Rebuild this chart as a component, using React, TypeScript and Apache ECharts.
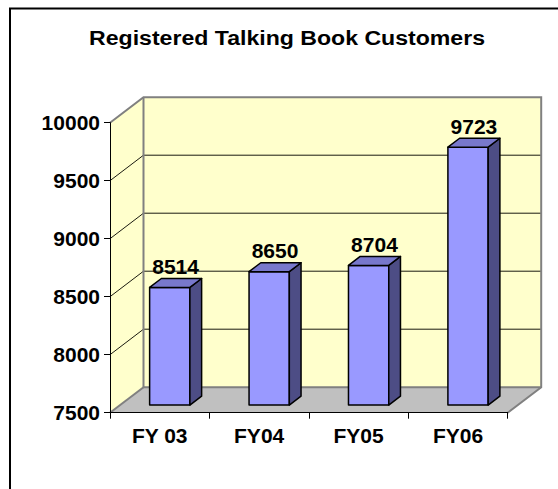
import React, { useEffect, useRef } from "react";
import * as echarts from "echarts";

const titleText = "Registered Talking Book Customers";
const categories = ["FY 03", "FY04", "FY05", "FY06"];
const customers = [8514, 8650, 8704, 9723];
const yMin = 7500;
const yMax = 10000;
const yStep = 500;
const yTicks = [7500, 8000, 8500, 9000, 9500, 10000];

const FONT = '"Liberation Sans", Arial, Helvetica, sans-serif';
const DX = 33.5;
const DY = -25.5;
const F0 = 0.3;
const F1 = 0.65;

export default function App() {
  const ref = useRef<HTMLDivElement>(null);
  useEffect(() => {
    document.body.style.margin = "0";
    document.body.style.background = "#fff";
    const chart = echarts.init(ref.current!, null, { renderer: "svg" });

    const wallsRender = (params: any, api: any) => {
      const bw = api.size([1, 0])[0];
      const xL = api.coord([0, yMin])[0] - bw / 2;
      const xR = api.coord([categories.length - 1, yMin])[0] + bw / 2;
      const yB = api.coord([0, yMin])[1];
      const yT = api.coord([0, yMax])[1];
      const edge = { stroke: "#808080", lineWidth: 2 };
      const children: any[] = [
        {
          type: "polygon",
          shape: { points: [[xL + DX, yT + DY], [xR + DX, yT + DY], [xR + DX, yB + DY], [xL + DX, yB + DY]] },
          style: { fill: "#FFFFCC", stroke: "none" },
        },
        {
          type: "polygon",
          shape: { points: [[xL, yT], [xL + DX, yT + DY], [xL + DX, yB + DY], [xL, yB]] },
          style: { fill: "#FFFFCC", stroke: "none" },
        },
        {
          type: "polygon",
          shape: { points: [[xL, yB], [xL + DX, yB + DY], [xR + DX, yB + DY], [xR, yB]] },
          style: { fill: "#C0C0C0", stroke: "none" },
        },
      ];
      yTicks.forEach((t) => {
        if (t <= yMin || t >= yMax) return;
        const y = api.coord([0, t])[1];
        children.push({
          type: "polyline",
          shape: { points: [[xL, y], [xL + DX, y + DY], [xR + DX, y + DY]] },
          style: { fill: "none", stroke: "#1a1a10", lineWidth: 1 },
        });
      });
      children.push(
        { type: "polyline", shape: { points: [[xL, yT], [xL + DX, yT + DY], [xR + DX, yT + DY], [xR + DX, yB + DY], [xR, yB]] }, style: { fill: "none", ...edge } },
        { type: "polyline", shape: { points: [[xL + DX, yT + DY], [xL + DX, yB + DY], [xR + DX, yB + DY]] }, style: { fill: "none", ...edge } },
        { type: "line", shape: { x1: xL, y1: yB, x2: xL + DX, y2: yB + DY }, style: edge }
      );
      return { type: "group", children };
    };

    const barsRender = (params: any, api: any) => {
      const i = api.value(0);
      const v = api.value(1);
      const top = api.coord([i, v]);
      const base = api.coord([i, yMin]);
      const bw = api.size([1, 0])[0];
      const w = bw * 0.405;
      const ox = F0 * DX;
      const oy = F0 * DY;
      const ddx = (F1 - F0) * DX;
      const ddy = (F1 - F0) * DY;
      const x0 = top[0] - w / 2 + ox;
      const x1 = top[0] + w / 2 + ox;
      const yT = top[1] + oy;
      const yB = base[1] + oy;
      const line = { stroke: "#000", lineWidth: 1.5, lineJoin: "round" };
      return {
        type: "group",
        children: [
          { type: "polygon", shape: { points: [[x0, yT], [x1, yT], [x1, yB], [x0, yB]] }, style: { fill: "#9999FF", ...line } },
          { type: "polygon", shape: { points: [[x1, yT], [x1 + ddx, yT + ddy], [x1 + ddx, yB + ddy], [x1, yB]] }, style: { fill: "#4D4D85", ...line } },
          { type: "polygon", shape: { points: [[x0, yT], [x1, yT], [x1 + ddx, yT + ddy], [x0 + ddx, yT + ddy]] }, style: { fill: "#7878CC", ...line } },
          {
            type: "text",
            style: {
              text: String(v),
              x: top[0] + ox + ddx / 2,
              y: yT + ddy - 12,
              align: "center",
              verticalAlign: "middle",
              textAlign: "center",
              textVerticalAlign: "middle",
              font: `bold 21px ${FONT}`,
              fill: "#000",
            },
          },
        ],
      };
    };

    chart.setOption({
      animation: false,
      backgroundColor: "#ffffff",
      graphic: [
        {
          type: "rect",
          shape: { x: 10, y: 8.5, width: 800, height: 800 },
          style: { fill: "none", stroke: "#000", lineWidth: 2 },
          silent: true,
        },
        {
          type: "text",
          x: 287,
          y: 37.5,
          scaleX: 1.1,
          style: {
            text: titleText,
            x: 0,
            y: 0,
            font: `bold 21px ${FONT}`,
            fill: "#000",
            textAlign: "center",
            textVerticalAlign: "middle",
          },
        },
      ],
      grid: { left: 110, right: 50.3, top: 122.7, bottom: 76.3, containLabel: false },
      xAxis: {
        type: "category",
        data: categories,
        z: 5,
        boundaryGap: true,
        axisLine: { show: true, lineStyle: { color: "#000", width: 1 } },
        axisTick: { show: true, length: 6, lineStyle: { color: "#000", width: 1 } },
        axisLabel: { color: "#000", fontSize: 21, fontWeight: "bold", fontFamily: FONT, margin: 12 },
        splitLine: { show: false },
      },
      yAxis: {
        type: "value",
        min: yMin,
        max: yMax,
        interval: yStep,
        z: 5,
        axisLine: { show: true, lineStyle: { color: "#000", width: 1 } },
        axisTick: { show: true, length: 6, inside: false, lineStyle: { color: "#000", width: 1 } },
        axisLabel: {
          color: "#000",
          fontSize: 21,
          fontWeight: "bold",
          fontFamily: FONT,
          margin: 10,
          formatter: (v: number) => String(v),
        },
        splitLine: { show: false },
      },
      series: [
        {
          type: "custom",
          z: 1,
          silent: true,
          clip: false,
          renderItem: wallsRender,
          data: [[0, yMin]],
        },
        {
          type: "custom",
          z: 3,
          clip: false,
          renderItem: barsRender,
          data: customers.map((v, i) => [i, v]),
        },
      ],
    });
    return () => chart.dispose();
  }, []);
  return <div ref={ref} style={{ width: 558, height: 489, position: "absolute", left: 0, top: 0 }} />;
}
